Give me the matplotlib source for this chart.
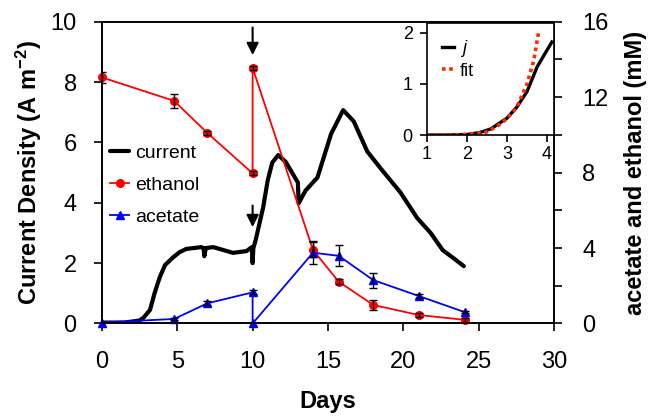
import matplotlib
matplotlib.use('Agg')
import matplotlib.pyplot as plt
import numpy as np

plt.rcParams['font.family'] = ['Liberation Sans', 'DejaVu Sans']
plt.rcParams['mathtext.fontset'] = 'custom'
plt.rcParams['mathtext.rm'] = 'Liberation Sans'
plt.rcParams['mathtext.it'] = 'Liberation Sans:italic'
plt.rcParams['mathtext.bf'] = 'Liberation Sans:bold'

# current density trace (A m-2)
cur_day = [0, 1.5, 2.5, 2.75, 3.2, 3.5, 3.85, 4.2, 4.75, 5.15, 5.6, 6.6, 6.75, 6.8, 6.9, 7.4,
           8.7, 9.6, 9.95, 10.0, 10.05, 10.2, 10.7, 11.0, 11.3, 11.7, 12.2, 13.0, 13.05,
           13.5, 14.3, 15.2, 16.0, 16.7, 17.6, 18.5, 19.8, 20.9, 21.8, 22.6, 23.3, 24.0]
cur_j = [0.03, 0.03, 0.1, 0.18, 0.45, 1.0, 1.54, 1.94, 2.2, 2.36, 2.47, 2.53, 2.5, 2.23, 2.5, 2.53,
         2.34, 2.4, 2.53, 2.0, 2.5, 2.76, 3.85, 4.74, 5.33, 5.58, 5.35, 4.67, 3.98,
         4.4, 4.84, 6.28, 7.07, 6.7, 5.7, 5.13, 4.34, 3.5, 3.0, 2.43, 2.17, 1.9]

# concentrations (mM)
conc_day = [0, 4.8, 7, 10, 10, 14, 15.7, 18, 21, 24.1]
ethanol = [13.05, 11.8, 10.1, 7.96, 13.56, 3.9, 2.22, 0.98, 0.45, 0.19]
ethanol_err = [0.3, 0.35, 0.12, 0.1, 0.1, 0.4, 0.12, 0.25, 0.1, 0.1]
acetate = [0.05, 0.24, 1.07, 1.65, 0.0, 3.75, 3.59, 2.3, 1.46, 0.59]
acetate_err = [0.05, 0.05, 0.1, 0.1, 0.05, 0.6, 0.55, 0.4, 0.1, 0.05]

# inset: onset of current and fit
ins_x = [1.0, 1.5, 2.0, 2.33, 2.6, 2.75, 3.0, 3.25, 3.5, 3.75, 3.9, 4.12]
ins_j = [0.0, 0.0, 0.01, 0.05, 0.12, 0.2, 0.33, 0.55, 0.85, 1.33, 1.53, 1.82]
fit_x = [1.0, 1.5, 2.0, 2.5, 2.75, 3.0, 3.25, 3.5, 3.67, 3.79]
fit_j = [0.0, 0.0, 0.01, 0.06, 0.17, 0.32, 0.55, 1.0, 1.46, 2.02]

fig = plt.figure(figsize=(6.48, 4.18), dpi=100)
ax = fig.add_axes([0.157, 0.2261, 0.6985, 0.722])
ax2 = ax.twinx()

ln_cur, = ax.plot(cur_day, cur_j, color='black', lw=3, label='current',
                  solid_joinstyle='round', solid_capstyle='round')

ax2.errorbar(conc_day, ethanol, yerr=ethanol_err, fmt='none', ecolor='black',
             elinewidth=1, capsize=3, capthick=1, zorder=3)
ax2.errorbar(conc_day, acetate, yerr=acetate_err, fmt='none', ecolor='black',
             elinewidth=1, capsize=3, capthick=1, zorder=3)
ln_eth, = ax2.plot(conc_day, ethanol, color='red', lw=1.3, marker='o', ms=5.5,
                   label='ethanol', clip_on=False, zorder=2)
ln_ace, = ax2.plot(conc_day, acetate, color='blue', lw=1.3, marker='^', ms=6,
                   label='acetate', clip_on=False, zorder=2)

ax.set_xlim(0, 30)
ax.set_ylim(0, 10)
ax2.set_ylim(0, 16)
ax.set_xticks(np.arange(0, 31, 5))
ax.set_yticks(np.arange(0, 11, 2))
ax2.set_yticks(np.arange(0, 17, 4))
ax2.set_yticks(np.arange(2, 16, 4), minor=True)

for a in (ax, ax2):
    for s in a.spines.values():
        s.set_linewidth(1.2)
ax.tick_params(axis='x', direction='out', length=6, width=1.2, labelsize=17, pad=14)
ax.tick_params(axis='y', direction='out', length=6, width=1.2, labelsize=17, pad=12)
ax2.tick_params(direction='out', length=6, width=1.2, labelsize=17, pad=14)
ax2.tick_params(which='minor', direction='out', length=6, width=1.2)

ax.set_xlabel('Days', fontsize=17, fontweight='bold', labelpad=12)
ax.set_ylabel(r'Current Density (A m$^{\mathbf{-2}}$)', fontsize=17, fontweight='bold', labelpad=5)
ax2.set_ylabel('acetate and ethanol (mM)', fontsize=17, fontweight='bold', labelpad=11)

# arrows marking ethanol addition
arrow = dict(arrowstyle='-|>,head_length=0.6,head_width=0.3', color='black', lw=1.5,
             mutation_scale=12)
ax.annotate('', xy=(10, 8.8), xytext=(10, 9.9), arrowprops=arrow)
ax.annotate('', xy=(10, 3.1), xytext=(10, 4.0), arrowprops=arrow)

ax.legend(handles=[ln_cur, ln_eth, ln_ace], loc='upper left', bbox_to_anchor=(0.018, 0.594),
          frameon=False, fontsize=14, handlelength=1.0, handletextpad=0.3,
          labelspacing=0.75, borderpad=0, borderaxespad=0)

# inset
ins = fig.add_axes([0.6585, 0.677, 0.1969, 0.269])
ins.plot(ins_x, ins_j, color='black', lw=2.4, label=r'$\mathit{j}$')
ins.plot(fit_x, fit_j, color='#ff2a00', lw=2.6, ls=(0, (1, 1)), label='fit')
ins.set_xlim(1, 4.18)
ins.set_ylim(0, 2.2)
ins.set_xticks([1, 2, 3, 4])
ins.set_yticks([0, 1, 2])
for s in ins.spines.values():
    s.set_linewidth(1.2)
ins.tick_params(axis='x', direction='out', length=5, width=1.2, labelsize=13, pad=3)
ins.tick_params(axis='y', direction='out', length=5, width=1.2, labelsize=13, pad=5)
ins.legend(loc='upper left', bbox_to_anchor=(0.118, 0.862), frameon=False, fontsize=13,
           handlelength=0.7, handletextpad=0.3, labelspacing=0.2, borderpad=0,
           borderaxespad=0)

fig.savefig('out.png', dpi=100)
